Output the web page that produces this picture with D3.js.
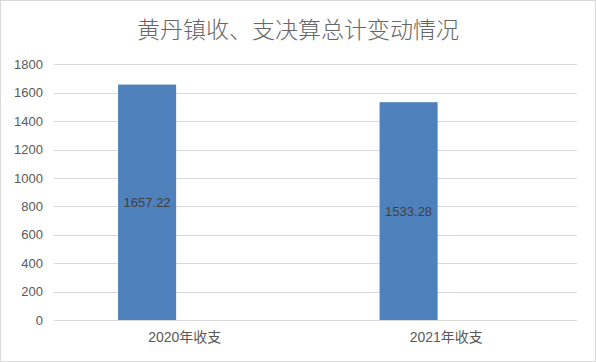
<!DOCTYPE html>
<html>
<head>
<meta charset="utf-8">
<script src="https://cdn.jsdelivr.net/npm/d3@7"></script>
<style>
  html, body { margin: 0; padding: 0; background: #ffffff; }
  svg { display: block; }
</style>
</head>
<body>
<svg id="chart" width="596" height="362"></svg>
<script>
// Chart data
const title = "黄丹镇收、支决算总计变动情况";
const categories = ["2020年收支", "2021年收支"];
const values = [1657.22, 1533.28];
const yTicks = [0, 200, 400, 600, 800, 1000, 1200, 1400, 1600, 1800];

const W = 596, H = 362;
const plot = { left: 54, right: 577, top: 64.3, bottom: 320 };

const svg = d3.select("#chart");

// Outer frame
svg.append("rect")
  .attr("x", 0.5).attr("y", 0.5)
  .attr("width", W - 1).attr("height", H - 1)
  .attr("fill", "#ffffff")
  .attr("stroke", "#d9d9d9");

const x = d3.scaleBand()
  .domain(categories)
  .range([plot.left, plot.right])
  .padding(0);

const y = d3.scaleLinear()
  .domain([0, 1800])
  .range([plot.bottom, plot.top]);

// Horizontal gridlines (the zero line doubles as the category axis)
svg.append("g")
  .selectAll("line")
  .data(yTicks)
  .join("line")
  .attr("x1", plot.left)
  .attr("x2", plot.right)
  .attr("y1", d => Math.round(y(d)) + 0.5)
  .attr("y2", d => Math.round(y(d)) + 0.5)
  .attr("stroke", "#d9d9d9")
  .attr("stroke-width", 1);

// Value axis labels
const yAxis = d3.axisLeft(y)
  .tickValues(yTicks)
  .tickFormat(d3.format("d"))
  .tickSize(0)
  .tickPadding(11);
const gy = svg.append("g")
  .attr("transform", `translate(${plot.left},0)`)
  .call(yAxis);
gy.select(".domain").remove();
gy.selectAll("text")
  .attr("fill", "#595959")
  .attr("font-family", "'Liberation Sans', Arial, sans-serif")
  .attr("font-size", 13);

// Category axis labels
const xAxis = d3.axisBottom(x).tickSize(0).tickPadding(12);
const gx = svg.append("g")
  .attr("transform", `translate(0,${plot.bottom})`)
  .call(xAxis);
gx.select(".domain").remove();
gx.selectAll("text")
  .attr("fill", "#595959")
  .attr("font-family", "'Liberation Sans', 'Noto Sans CJK SC', sans-serif")
  .attr("font-size", 14);

// Bars sit in the left part of each category slot
const barOffset = 0.245, barWidth = 0.222;
const rows = categories.map((c, i) => ({ cat: c, value: values[i] }));

svg.append("g")
  .selectAll("rect")
  .data(rows)
  .join("rect")
  .attr("x", d => x(d.cat) + x.bandwidth() * barOffset)
  .attr("width", x.bandwidth() * barWidth)
  .attr("y", d => y(d.value))
  .attr("height", d => y(0) - y(d.value))
  .attr("fill", "#4f81bd");

// Value labels centred inside each bar
svg.append("g")
  .selectAll("text")
  .data(rows)
  .join("text")
  .attr("x", d => x(d.cat) + x.bandwidth() * (barOffset + barWidth / 2))
  .attr("y", d => (y(d.value) + y(0)) / 2)
  .attr("dy", "0.35em")
  .attr("text-anchor", "middle")
  .attr("fill", "#404040")
  .attr("font-family", "'Liberation Sans', Arial, sans-serif")
  .attr("font-size", 13)
  .text(d => d.value.toFixed(2));

// Title
svg.append("text")
  .attr("x", W / 2)
  .attr("y", 30)
  .attr("dy", "0.35em")
  .attr("text-anchor", "middle")
  .attr("fill", "#666666")
  .attr("font-family", "'Noto Sans CJK SC', sans-serif")
  .attr("font-weight", 300)
  .attr("font-size", 23)
  .text(title);
</script>
</body>
</html>
